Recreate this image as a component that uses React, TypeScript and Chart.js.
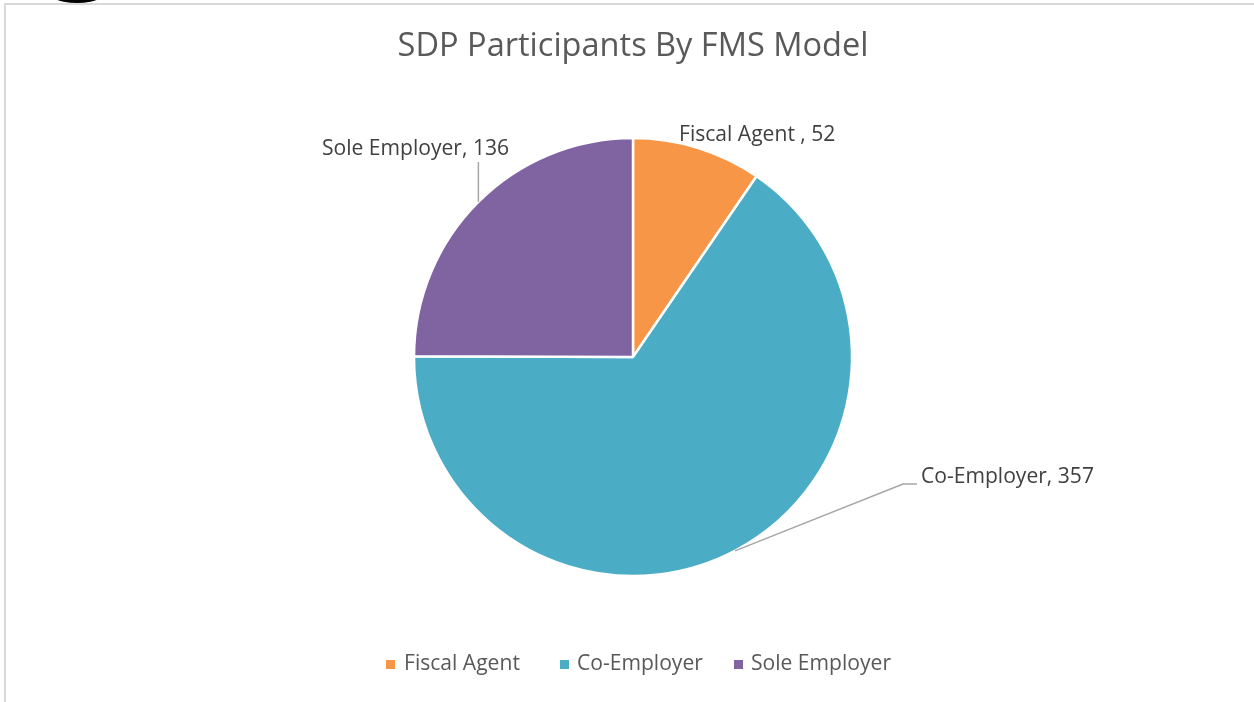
import React, { useEffect, useRef } from "react";
import { Chart, registerables } from "chart.js";

Chart.register(...registerables);

const TITLE = "SDP Participants By FMS Model";
const categories = ["Fiscal Agent", "Co-Employer", "Sole Employer"];
const dataLabels = ["Fiscal Agent , 52", "Co-Employer, 357", "Sole Employer, 136"];
const values = [52, 357, 136];
const colors = ["#F79646", "#4BACC6", "#8064A2"];

const FAMILY = '"Open Sans", "Noto Sans", sans-serif';

function fitFont(ctx: CanvasRenderingContext2D, text: string, target: number) {
  ctx.font = `100px ${FAMILY}`;
  const w = ctx.measureText(text).width;
  return (100 * target) / w;
}

const overlayPlugin = {
  id: "overlay",
  afterDraw(chart: any) {
    const ctx: CanvasRenderingContext2D = chart.ctx;
    const meta = chart.getDatasetMeta(0);
    ctx.save();
    // Title
    const ts = fitFont(ctx, TITLE, 471);
    ctx.font = `${ts}px ${FAMILY}`;
    ctx.fillStyle = "#595959";
    ctx.textAlign = "center";
    ctx.textBaseline = "middle";
    ctx.fillText(TITLE, 633, 47);

    // data labels
    const ls = fitFont(ctx, dataLabels[1], 173);
    ctx.font = `${ls}px ${FAMILY}`;
    ctx.fillStyle = "#404040";
    ctx.strokeStyle = "#A6A6A6";
    ctx.lineWidth = 1.5;
    const mids = meta.data.map((arc: any) => {
      const p = arc.getProps(["x", "y", "startAngle", "endAngle", "outerRadius"], true);
      const a = (p.startAngle + p.endAngle) / 2;
      return { x: p.x + Math.cos(a) * p.outerRadius, y: p.y + Math.sin(a) * p.outerRadius };
    });
    // Fiscal Agent
    ctx.textAlign = "left";
    ctx.fillText(dataLabels[0], 679, 135);
    // Co-Employer
    const m1 = mids[1];
    ctx.beginPath();
    ctx.moveTo(m1.x, m1.y);
    ctx.lineTo(903, 484);
    ctx.lineTo(917, 484);
    ctx.stroke();
    ctx.fillText(dataLabels[1], 921, 477);
    // Sole Employer
    const m2 = mids[2];
    ctx.beginPath();
    ctx.moveTo(m2.x, m2.y);
    ctx.lineTo(m2.x, 162);
    ctx.stroke();
    ctx.textAlign = "center";
    ctx.fillText(dataLabels[2], 415.5, 149);

    // Legend
    const lg = fitFont(ctx, categories[0], 116);
    ctx.font = `${lg}px ${FAMILY}`;
    ctx.fillStyle = "#595959";
    ctx.textAlign = "left";
    const boxX = [386, 560, 734];
    const textX = [404, 577, 751];
    categories.forEach((c, i) => {
      ctx.fillStyle = colors[i];
      ctx.fillRect(boxX[i], 660, 9, 9);
      ctx.fillStyle = "#595959";
      ctx.fillText(c, textX[i], 664);
    });
    ctx.restore();
  },
};

export default function App() {
  const ref = useRef<HTMLCanvasElement | null>(null);
  useEffect(() => {
    if (!ref.current) return;
    const chart = new Chart(ref.current, {
      type: "pie",
      data: {
        labels: categories,
        datasets: [
          {
            data: values,
            backgroundColor: colors,
            borderColor: "#ffffff",
            borderWidth: 2.5,
          },
        ],
      },
      options: {
        animation: false,
        responsive: false,
        maintainAspectRatio: false,
        radius: 219,
        layout: { padding: { top: 138, bottom: 126, left: 414, right: 402 } },
        plugins: {
          legend: { display: false },
          title: { display: false },
          tooltip: { enabled: false },
        },
      } as any,
      plugins: [overlayPlugin],
    });
    return () => chart.destroy();
  }, []);
  return (
    <div style={{ position: "fixed", left: 0, top: 0, width: 1254, height: 702, background: "#fff", overflow: "hidden" }}>
      <div style={{ position: "absolute", left: 4, top: 3, right: -10, bottom: -10, borderTop: "2px solid #D9D9D9", borderLeft: "2px solid #D9D9D9" }} />
      <div style={{ position: "absolute", left: 42, top: -32, width: 70, height: 35, borderRadius: "50%", background: "#000" }} />
      <canvas ref={ref} width={1254} height={702} style={{ position: "absolute", left: 0, top: 0 }} />
    </div>
  );
}
